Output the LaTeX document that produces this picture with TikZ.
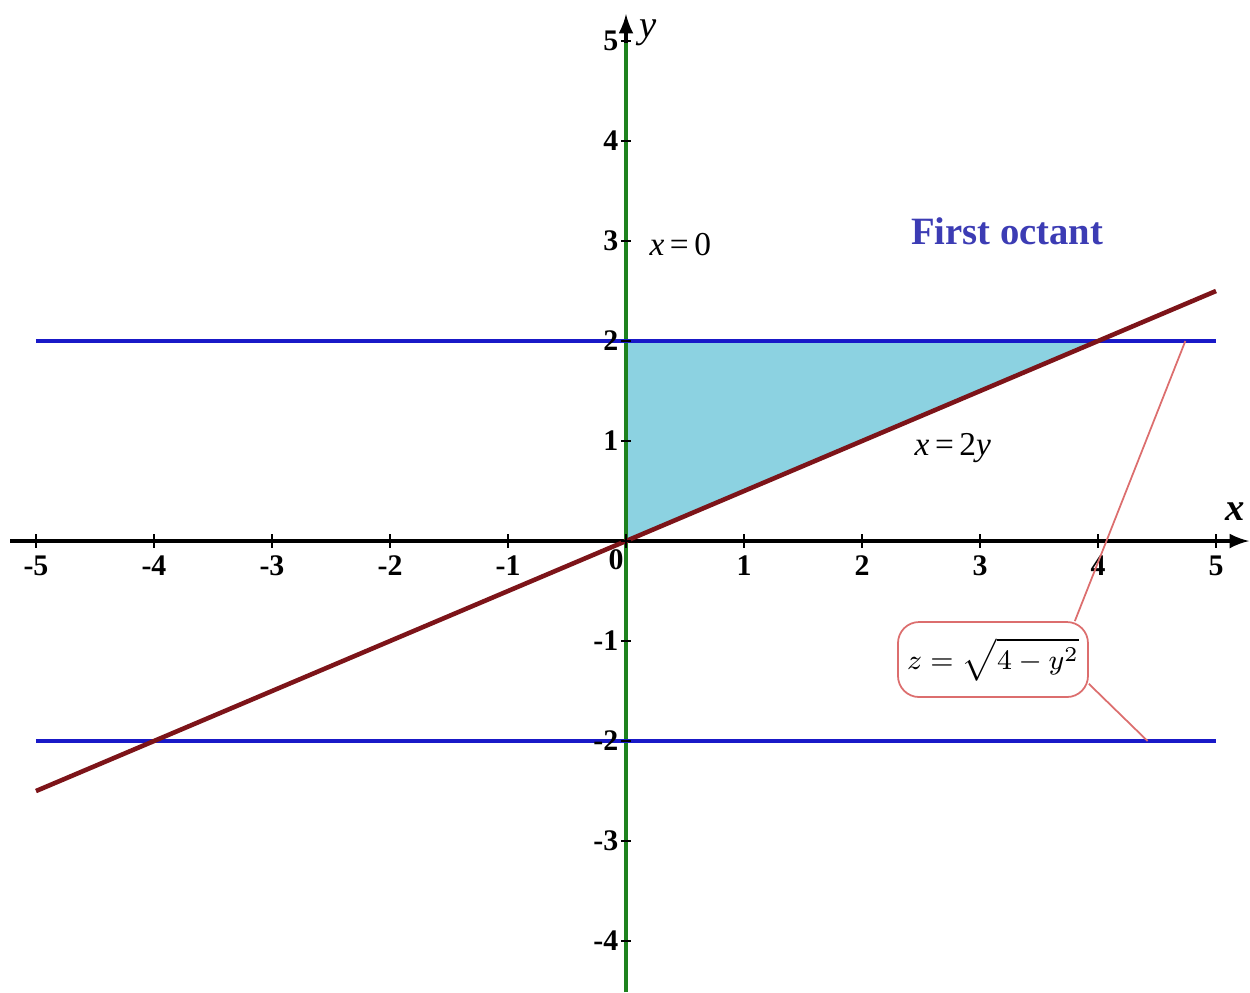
\documentclass[tikz,border=0pt]{standalone}
\usepackage{fontspec}
\setmainfont{Liberation Serif}
\definecolor{lineblue}{RGB}{25,25,200}
\definecolor{axisgreen}{RGB}{30,130,30}
\definecolor{linebrown}{RGB}{125,20,25}
\definecolor{regionfill}{RGB}{140,210,225}
\definecolor{calloutred}{RGB}{220,110,110}
\definecolor{octblue}{RGB}{60,60,180}
\tikzset{
  ticklab/.style={font=\fontsize{8.5}{10}\selectfont\bfseries, inner sep=1pt},
  eqlab/.style={font=\fontsize{9.5}{11}\selectfont},
  callout/.style={draw=calloutred, rounded corners=6pt, minimum width=1.9cm, minimum height=0.75cm,
    inner sep=2pt, line width=0.5pt, font=\fontsize{8}{10}\selectfont}
}
\begin{document}
\begin{tikzpicture}[x=1.18cm,y=1cm]
    \useasboundingbox (-5.305,-4.51) rectangle (5.288,5.41);
    % shaded region
    \fill [regionfill] (0,0) -- (0,2) -- (4,2) -- cycle;

    % axes
    \draw [line width=0.9pt, -latex] (-5.22,0) -- (5.28,0);
    \draw [line width=0.9pt, -latex] (0,-4.51) -- (0,5.27);
    \draw [line width=1.3pt, axisgreen] (0,-4.51) -- (0,4.98);

    % planes y=2, y=-2 and x=2y
    \draw [line width=1pt, lineblue] (-5,2) -- (5,2);
    \draw [line width=1pt, lineblue] (-5,-2) -- (5,-2);
    \draw [line width=1.3pt, linebrown] (-5,-2.5) -- (5,2.5);

    % ticks and numbers
    \foreach \i in {-5,...,5}
        \draw [line width=0.8pt] (\i,0.07) -- (\i,-0.07);
    \foreach \j in {-4,...,5}
        \draw [line width=0.8pt] (-0.04,\j) -- (0.04,\j);
    \foreach \i in {-5,-4,-3,-2,-1,1,2,3,4,5}
        \node [ticklab] (xl\i) at (\i,-0.25) {\i};
    \foreach \j in {-4,-3,-2,-1,1,2,3,4,5}
        \node [ticklab, anchor=east] (yl\j) at (-0.03,\j) {\j};
    \node [ticklab] (xl0) at (-0.085,-0.19) {0};

    \node [font=\fontsize{11}{13}\selectfont\bfseries\itshape] (xname) at (5.16,0.29) {x};
    \node [font=\fontsize{11}{13}\selectfont\itshape] (yname) at (0.19,5.08) {y};

    % labels
    \node [eqlab] (xzero) at (0.46,2.96) {\textit{x}\,=\,0};
    \node [eqlab] (xtwoy) at (2.77,0.93) {\textit{x}\,=\,2\textit{y}};
    \node [font=\fontsize{11}{13}\selectfont\bfseries, text=octblue] (oct) at (3.23,3.1) {First octant};

    % callout
    \node [callout] (zlab) at (3.11,-1.185) {$z=\sqrt{4-y^2}$};
    \coordinate (ptop) at (4.74,2);
    \coordinate (pbot) at (4.42,-2);
    \draw [calloutred, line width=0.5pt] ([xshift=-4pt]zlab.north east) -- (ptop);
    \draw [calloutred, line width=0.5pt] ([yshift=4pt]zlab.south east) -- (pbot);
\end{tikzpicture}
\end{document}
